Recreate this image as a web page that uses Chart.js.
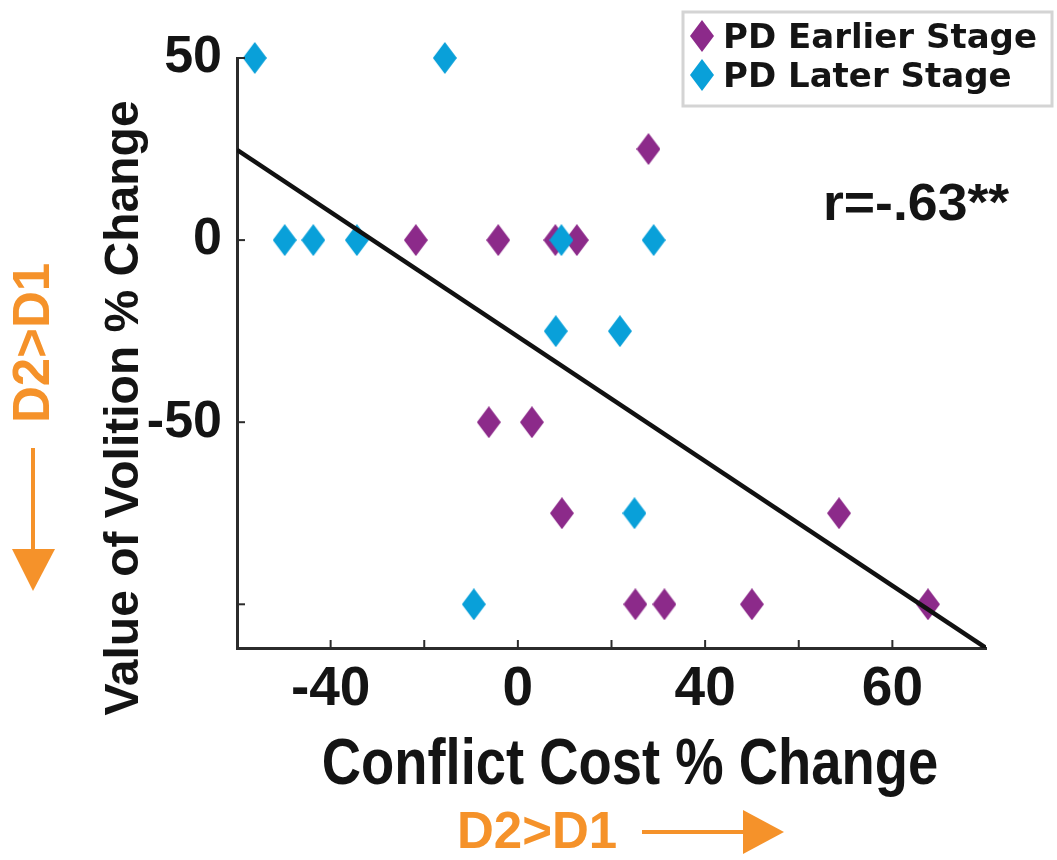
<!DOCTYPE html>
<html lang="en">
<head>
    <meta charset="UTF-8">
    <title>Conflict Cost vs Value of Volition</title>
    <script src="https://cdn.jsdelivr.net/npm/chart.js"></script>
    <style>
        html, body {
            margin: 0;
            padding: 0;
            background: #FFFFFF;
        }

        .chart-wrap {
            position: relative;
            width: 1057px;
            height: 860px;
        }
    </style>
</head>
<body>
    <div class="chart-wrap">
        <canvas id="scatterChart"></canvas>
    </div>

    <script>
        // Values
        const earlierX = [-21.8, -4.2, 8.0, 12.6, 27.9, -6.2, 3.0, 9.4, 68.6, 25.1, 31.3, 50.0, 87.6];
        const earlierY = [0, 0, 0, 0, 25, -50, -50, -75, -75, -100, -100, -100, -100];
        const laterX = [-56.2, -15.6, -49.8, -43.7, -34.4, 9.3, 29.0, 8.1, 21.8, 24.9, -9.4];
        const laterY = [50, 50, 0, 0, 0, 0, 0, -25, -25, -75, -100];
        const fitX = [-60, 100];
        const fitY = [24.8, -112];
        const xTickValues = [-40, -20, 0, 20, 40, 60, 80];
        const xTickLabels = ['-40', '', '0', '', '40', '', '60'];
        const yTickValues = [50, 0, -50, -100];
        const yTickLabels = ['50', '0', '-50', ''];
        const seriesNames = ['PD Earlier Stage', 'PD Later Stage'];
        const rText = 'r=-.63**';
        const xTitle = 'Conflict Cost % Change';
        const yTitle = 'Value of Volition % Change';
        const arrowText = 'D2>D1';

        const purple = '#8c2a8a';
        const blue = '#09a0d9';
        const orange = '#f5922a';
        const ink = '#141414';
        const plainFont = '"Liberation Sans", Arial, sans-serif';

        // tall diamond marker like the matlab one
        function diamond(color) {
            const c = document.createElement('canvas');
            c.width = 24;
            c.height = 32;
            const g = c.getContext('2d');
            g.fillStyle = color;
            g.beginPath();
            g.moveTo(12, 0);
            g.lineTo(24, 16);
            g.lineTo(12, 32);
            g.lineTo(0, 16);
            g.closePath();
            g.fill();
            return c;
        }
        const purpleMark = diamond(purple);
        const blueMark = diamond(blue);

        const toPoints = (xs, ys) => xs.map((x, i) => ({ x: x, y: ys[i] }));

        // text squeezed sideways, the figure's labels are condensed
        function narrowText(ctx, text, x, y, size, squeeze) {
            ctx.save();
            ctx.translate(x, y);
            ctx.scale(squeeze, 1);
            ctx.font = 'bold ' + size + 'px ' + plainFont;
            ctx.fillText(text, 0, 0);
            ctx.restore();
        }

        // inward ticks, legend box, annotation text and arrows
        const decor = {
            id: 'decor',
            afterDraw(chart) {
                const ctx = chart.ctx;
                const area = chart.chartArea;
                const sx = chart.scales.x;
                const sy = chart.scales.y;
                ctx.save();

                ctx.strokeStyle = '#2b2b2b';
                ctx.lineWidth = 2;
                sx.ticks.forEach(t => {
                    const px = sx.getPixelForValue(t.value);
                    ctx.beginPath();
                    ctx.moveTo(px, area.bottom);
                    ctx.lineTo(px, area.bottom - 8);
                    ctx.stroke();
                });
                sy.ticks.forEach(t => {
                    const py = sy.getPixelForValue(t.value);
                    ctx.beginPath();
                    ctx.moveTo(area.left, py);
                    ctx.lineTo(area.left + 8, py);
                    ctx.stroke();
                });

                // axis titles
                ctx.fillStyle = ink;
                ctx.textAlign = 'center';
                ctx.textBaseline = 'middle';
                narrowText(ctx, xTitle, 630, 766, 64, 0.85);
                ctx.save();
                ctx.translate(125, 408);
                ctx.rotate(-Math.PI / 2);
                ctx.font = 'bold 48px ' + plainFont;
                ctx.fillText(yTitle, 0, 0);
                ctx.restore();

                // correlation text
                ctx.textAlign = 'left';
                ctx.textBaseline = 'alphabetic';
                narrowText(ctx, rText, 823, 220, 52, 1.03);

                // legend
                ctx.fillStyle = '#FFFFFF';
                ctx.fillRect(683, 12, 369, 94);
                ctx.strokeStyle = '#d4d4d4';
                ctx.lineWidth = 3;
                ctx.strokeRect(683, 12, 369, 94);
                const marks = [purpleMark, blueMark];
                const rows = [36, 75];
                ctx.fillStyle = ink;
                ctx.font = 'bold 34px "DejaVu Sans", sans-serif';
                seriesNames.forEach((name, i) => {
                    ctx.drawImage(marks[i], 702 - 12, rows[i] - 16);
                    ctx.fillText(name, 723, rows[i] + 12);
                });

                // orange direction hints
                ctx.fillStyle = orange;
                ctx.strokeStyle = orange;
                ctx.lineWidth = 4;
                ctx.font = 'bold 51px ' + plainFont;
                ctx.textBaseline = 'middle';
                ctx.fillText(arrowText, 457, 834);
                ctx.beginPath();
                ctx.moveTo(642, 832);
                ctx.lineTo(750, 832);
                ctx.stroke();
                ctx.beginPath();
                ctx.moveTo(743, 810);
                ctx.lineTo(784, 832);
                ctx.lineTo(743, 854);
                ctx.closePath();
                ctx.fill();

                ctx.save();
                ctx.translate(35, 343);
                ctx.rotate(-Math.PI / 2);
                ctx.textAlign = 'center';
                ctx.fillText(arrowText, 0, 0);
                ctx.restore();
                ctx.beginPath();
                ctx.moveTo(33, 448);
                ctx.lineTo(33, 556);
                ctx.stroke();
                ctx.beginPath();
                ctx.moveTo(12, 549);
                ctx.lineTo(33, 591);
                ctx.lineTo(55, 549);
                ctx.closePath();
                ctx.fill();

                ctx.restore();
            }
        };

        new Chart(document.getElementById('scatterChart'), {
            type: 'scatter',
            data: {
                datasets: [{
                    label: 'fit',
                    type: 'line',
                    data: toPoints(fitX, fitY),
                    borderColor: '#111111',
                    borderWidth: 4.5,
                    pointRadius: 0,
                    fill: false,
                    order: 0
                }, {
                    label: seriesNames[1],
                    data: toPoints(laterX, laterY),
                    pointStyle: blueMark,
                    backgroundColor: blue,
                    clip: false,
                    order: 1
                }, {
                    label: seriesNames[0],
                    data: toPoints(earlierX, earlierY),
                    pointStyle: purpleMark,
                    backgroundColor: purple,
                    clip: false,
                    order: 2
                }]
            },
            options: {
                responsive: true,
                maintainAspectRatio: false,
                animation: false,
                layout: {
                    padding: { top: 58, right: 71, left: 0, bottom: 0 }
                },
                plugins: {
                    legend: { display: false },
                    tooltip: { enabled: false }
                },
                scales: {
                    x: {
                        type: 'linear',
                        min: -60,
                        max: 100,
                        grid: { display: false, drawTicks: false },
                        border: { display: true, color: '#2b2b2b', width: 3 },
                        afterBuildTicks: s => { s.ticks = xTickValues.map(v => ({ value: v })); },
                        afterFit: s => { s.height = 860 - 648; },
                        ticks: {
                            color: ink,
                            autoSkip: false,
                            maxRotation: 0,
                            padding: 14,
                            font: { family: plainFont, size: 55, weight: 'bold', lineHeight: 1 },
                            callback: (v, i) => xTickLabels[i]
                        }
                    },
                    y: {
                        type: 'linear',
                        min: -112,
                        max: 50,
                        grid: { display: false, drawTicks: false },
                        border: { display: true, color: '#2b2b2b', width: 3 },
                        afterBuildTicks: s => { s.ticks = yTickValues.map(v => ({ value: v })); },
                        afterFit: s => { s.width = 237; },
                        ticks: {
                            color: ink,
                            autoSkip: false,
                            padding: 15,
                            font: { family: plainFont, size: 52, weight: 'bold', lineHeight: 1 },
                            callback: (v, i) => yTickLabels[i]
                        }
                    }
                }
            },
            plugins: [decor]
        });
    </script>
</body>
</html>
